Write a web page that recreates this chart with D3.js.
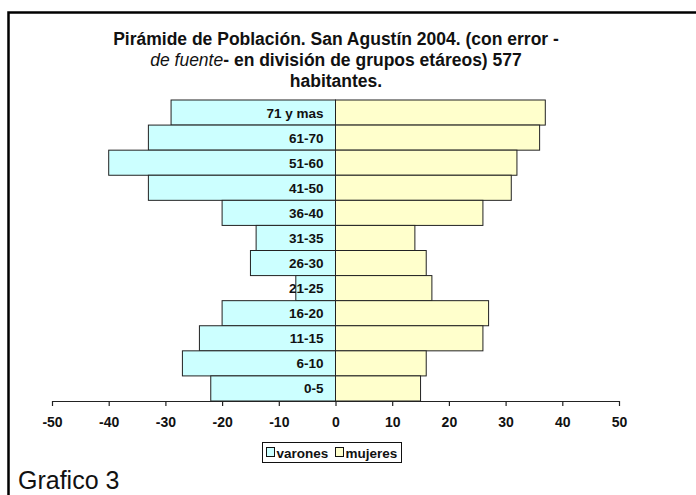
<!DOCTYPE html>
<html>
<head>
<meta charset="utf-8">
<script src="https://cdn.jsdelivr.net/npm/d3@7"></script>
<style>
  body { margin: 0; background: white; }
  svg { display: block; font-family: "Liberation Sans", Arial, sans-serif; }
</style>
</head>
<body>
<div class="board"></div>
<script>
var width = 696,
    height = 495

// age groups from top to bottom
var ageGroups = ["71 y mas", "61-70", "51-60", "41-50", "36-40", "31-35", "26-30", "21-25", "16-20", "11-15", "6-10", "0-5"]
var varones = [29, 33, 40, 33, 20, 14, 15, 7, 20, 24, 27, 22]
var mujeres = [37, 36, 32, 31, 26, 14, 16, 17, 27, 26, 16, 15]
var xTicks = [-50, -40, -30, -20, -10, 0, 10, 20, 30, 40, 50]

MEN_COLOR = "#ccffff"
WOMEN_COLOR = "#ffffcc"
TEXT_COLOR = "#111"

var svg = d3.select(".board")
    .append("svg")
    .attr("width", width)
    .attr("height", height)

// outer frame
svg.append("rect")
    .attr("x", 8.5)
    .attr("y", 12.5)
    .attr("width", 700)
    .attr("height", 500)
    .attr("fill", "none")
    .attr("stroke", "black")
    .attr("stroke-width", 2.5)

let xScale = d3.scaleLinear()
    .domain([-50, 50])
    .range([52, 619])

let yScale = d3.scaleBand()
    .domain(ageGroups)
    .range([100, 401])
    .padding(0)

var rows = ageGroups.map((g, i) => ({ group: g, men: varones[i], women: mujeres[i] }))

// title
var title = svg.append("g")
    .attr("font-weight", "bold")
    .attr("font-size", 17.5)
    .attr("text-anchor", "middle")
    .attr("fill", TEXT_COLOR)

title.append("text")
    .attr("x", 336)
    .attr("y", 45)
    .text("Pirámide de Población. San Agustín 2004. (con error -")

var line2 = title.append("text")
    .attr("x", 336)
    .attr("y", 66)
line2.append("tspan")
    .attr("font-style", "italic")
    .attr("font-weight", "normal")
    .text("de fuente")
line2.append("tspan")
    .text("- en división de grupos etáreos) 577")

title.append("text")
    .attr("x", 336)
    .attr("y", 87)
    .text("habitantes.")

// bars
svg.selectAll(".menBar")
    .data(rows)
    .enter()
    .append("rect")
    .classed("menBar", true)
    .attr("fill", MEN_COLOR)
    .attr("stroke", "#222")
    .attr("stroke-width", 1)
    .attr("x", d => xScale(-d.men))
    .attr("y", d => yScale(d.group))
    .attr("width", d => xScale(0) - xScale(-d.men))
    .attr("height", yScale.bandwidth())

svg.selectAll(".womenBar")
    .data(rows)
    .enter()
    .append("rect")
    .classed("womenBar", true)
    .attr("fill", WOMEN_COLOR)
    .attr("stroke", "#222")
    .attr("stroke-width", 1)
    .attr("x", xScale(0))
    .attr("y", d => yScale(d.group))
    .attr("width", d => xScale(d.women) - xScale(0))
    .attr("height", yScale.bandwidth())

// category labels inside the men bars
svg.selectAll(".ageLabel")
    .data(rows)
    .enter()
    .append("text")
    .classed("ageLabel", true)
    .attr("x", xScale(0) - 12)
    .attr("y", d => yScale(d.group) + yScale.bandwidth() / 2 + 5)
    .attr("text-anchor", "end")
    .attr("font-weight", "bold")
    .attr("font-size", 13.5)
    .attr("fill", TEXT_COLOR)
    .text(d => d.group)

// x axis
var xAxis = svg.append("g")
    .attr("transform", `translate(0, ${yScale.range()[1]})`)
    .call(d3.axisBottom(xScale)
        .tickValues(xTicks)
        .tickFormat(d => String(d))
        .tickSize(5)
        .tickPadding(11)
        .tickSizeOuter(0))

xAxis.select(".domain").attr("stroke", "#222").attr("stroke-width", 1.2)
xAxis.selectAll(".tick line").attr("stroke", "#222").attr("stroke-width", 1.2)
xAxis.selectAll(".tick text")
    .attr("font-family", "Liberation Sans, Arial, sans-serif")
    .attr("font-size", 14)
    .attr("font-weight", "bold")
    .attr("fill", TEXT_COLOR)

// legend
var legend = svg.append("g")
    .attr("transform", "translate(262.5, 442.5)")

legend.append("rect")
    .attr("width", 139)
    .attr("height", 20)
    .attr("fill", "white")
    .attr("stroke", "#111")
    .attr("stroke-width", 1)

var legendItems = [
    { name: "varones", color: MEN_COLOR, x: 4 },
    { name: "mujeres", color: WOMEN_COLOR, x: 73 }
]

legend.selectAll(".legendFigure")
    .data(legendItems)
    .enter()
    .append("rect")
    .classed("legendFigure", true)
    .attr("x", d => d.x)
    .attr("y", 5)
    .attr("width", 8)
    .attr("height", 9)
    .attr("fill", d => d.color)
    .attr("stroke", "#111")

legend.selectAll(".legendText")
    .data(legendItems)
    .enter()
    .append("text")
    .classed("legendText", true)
    .attr("x", d => d.x + 10)
    .attr("y", 15)
    .attr("font-size", 13.5)
    .attr("font-weight", "bold")
    .attr("fill", TEXT_COLOR)
    .text(d => d.name)

// caption
svg.append("text")
    .attr("x", 18)
    .attr("y", 489)
    .attr("font-size", 25)
    .attr("fill", TEXT_COLOR)
    .text("Grafico 3")
</script>
</body>
</html>
